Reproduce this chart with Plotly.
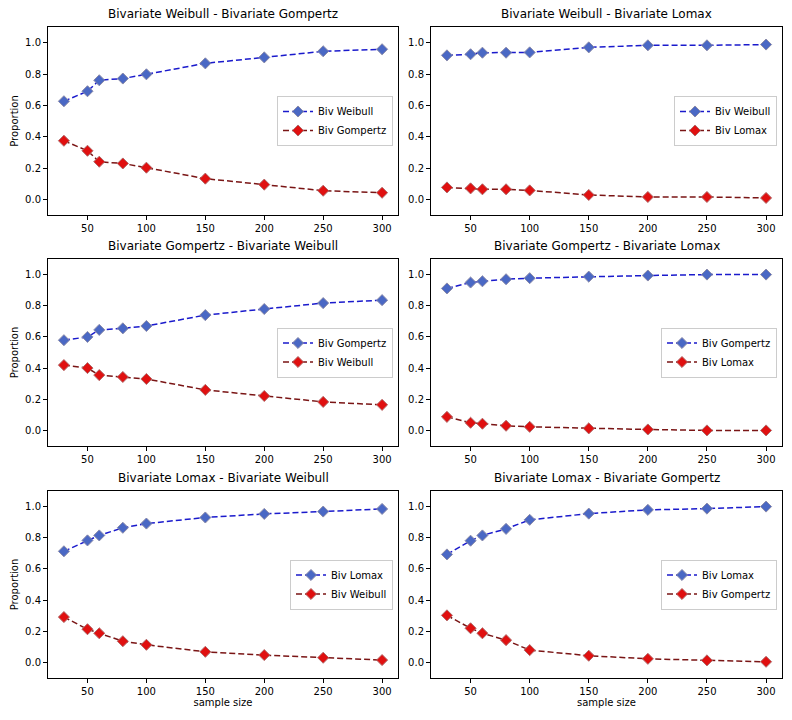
import plotly.graph_objects as go

sample_size = [30, 50, 60, 80, 100, 150, 200, 250, 300]

titles = [
    "Bivariate Weibull - Bivariate Gompertz",
    "Bivariate Weibull - Bivariate Lomax",
    "Bivariate Gompertz - Bivariate Weibull",
    "Bivariate Gompertz - Bivariate Lomax",
    "Bivariate Lomax - Bivariate Weibull",
    "Bivariate Lomax - Bivariate Gompertz",
]
names_first = ["Biv Weibull", "Biv Weibull", "Biv Gompertz", "Biv Gompertz", "Biv Lomax", "Biv Lomax"]
names_second = ["Biv Gompertz", "Biv Lomax", "Biv Weibull", "Biv Lomax", "Biv Weibull", "Biv Gompertz"]

weibull_gompertz_1 = [0.626, 0.690, 0.760, 0.771, 0.798, 0.868, 0.906, 0.945, 0.958]
weibull_gompertz_2 = [0.374, 0.310, 0.240, 0.229, 0.202, 0.132, 0.094, 0.055, 0.042]
weibull_lomax_1 = [0.919, 0.926, 0.936, 0.936, 0.938, 0.970, 0.983, 0.983, 0.988]
weibull_lomax_2 = [0.076, 0.070, 0.064, 0.064, 0.057, 0.028, 0.015, 0.015, 0.009]
gompertz_weibull_1 = [0.579, 0.600, 0.645, 0.655, 0.670, 0.740, 0.779, 0.817, 0.836]
gompertz_weibull_2 = [0.419, 0.400, 0.355, 0.343, 0.330, 0.260, 0.221, 0.183, 0.164]
gompertz_lomax_1 = [0.911, 0.949, 0.957, 0.970, 0.977, 0.987, 0.994, 1.000, 1.000]
gompertz_lomax_2 = [0.087, 0.049, 0.043, 0.030, 0.023, 0.013, 0.006, 0.000, 0.000]
lomax_weibull_1 = [0.713, 0.783, 0.815, 0.864, 0.891, 0.930, 0.953, 0.968, 0.985]
lomax_weibull_2 = [0.291, 0.213, 0.187, 0.136, 0.113, 0.068, 0.047, 0.030, 0.015]
lomax_gompertz_1 = [0.693, 0.781, 0.815, 0.857, 0.915, 0.955, 0.979, 0.987, 1.000]
lomax_gompertz_2 = [0.302, 0.219, 0.187, 0.143, 0.079, 0.043, 0.023, 0.013, 0.004]

first_series = [weibull_gompertz_1, weibull_lomax_1, gompertz_weibull_1,
                gompertz_lomax_1, lomax_weibull_1, lomax_gompertz_1]
second_series = [weibull_gompertz_2, weibull_lomax_2, gompertz_weibull_2,
                 gompertz_lomax_2, lomax_weibull_2, lomax_gompertz_2]

y_ticks = [0.0, 0.2, 0.4, 0.6, 0.8, 1.0]
x_ticks = [50, 100, 150, 200, 250, 300]

W, H = 792, 720
col_px = [(48, 398), (431, 782)]
row_px = [(27, 215), (259, 446), (491, 678)]
FONT = "DejaVu Sans"

fig = go.Figure()
annotations = []
layout = {}
for i in range(6):
    r, c = divmod(i, 2)
    k = i + 1
    xa = "xaxis" if k == 1 else f"xaxis{k}"
    ya = "yaxis" if k == 1 else f"yaxis{k}"
    xref = "x" if k == 1 else f"x{k}"
    yref = "y" if k == 1 else f"y{k}"
    leg = "legend" if k == 1 else f"legend{k}"
    x0, x1 = col_px[c]
    y0, y1 = row_px[r]
    layout[xa] = dict(
        domain=[x0 / W, x1 / W], anchor=yref, range=[16.5, 313.5],
        tickvals=x_ticks, ticks="outside", ticklen=4, tickcolor="black",
        showline=True, linecolor="black", linewidth=1, mirror=True,
        showgrid=False, zeroline=False,
        tickfont=dict(family=FONT, size=10, color="black"),
        title=dict(text="sample size" if r == 2 else "",
                   font=dict(family=FONT, size=10, color="black"), standoff=2),
    )
    layout[ya] = dict(
        domain=[1 - y1 / H, 1 - y0 / H], anchor=xref, range=[-0.1, 1.1],
        tickvals=y_ticks, tickformat=".1f", ticks="outside", ticklen=4, tickcolor="black",
        showline=True, linecolor="black", linewidth=1, mirror=True,
        showgrid=False, zeroline=False,
        tickfont=dict(family=FONT, size=10, color="black"),
        title=dict(text="Proportion" if c == 0 else "",
                   font=dict(family=FONT, size=10, color="black"), standoff=4),
    )
    layout[leg] = dict(
        x=(x1 - 5) / W, xanchor="right", y=1 - ((y0 + y1) / 2) / H, yanchor="middle",
        xref="paper", yref="paper",
        bgcolor="rgba(255,255,255,0.8)", bordercolor="#cccccc", borderwidth=1,
        font=dict(family=FONT, size=10, color="black"), tracegroupgap=0,
        itemwidth=30,
    )
    annotations.append(dict(
        text=titles[i], x=(x0 + x1) / 2 / W, y=1 - (y0 - 4) / H, xref="paper", yref="paper",
        xanchor="center", yanchor="bottom", showarrow=False,
        font=dict(family=FONT, size=12, color="black"),
    ))
    fig.add_trace(go.Scatter(
        x=sample_size, y=first_series[i], name=names_first[i], mode="lines+markers",
        line=dict(color="#1a1acc", width=1.5, dash="6px,3px"),
        marker=dict(symbol="diamond", size=8.5, color="#4a68c4",
                    line=dict(color="#8a8aa8", width=1)),
        xaxis=xref, yaxis=yref, legend=leg,
    ))
    fig.add_trace(go.Scatter(
        x=sample_size, y=second_series[i], name=names_second[i], mode="lines+markers",
        line=dict(color="#7a1515", width=1.5, dash="6px,3px"),
        marker=dict(symbol="diamond", size=8.5, color="#e01010",
                    line=dict(color="#b06a6a", width=1)),
        xaxis=xref, yaxis=yref, legend=leg,
    ))

fig.update_layout(
    width=W, height=H, margin=dict(l=0, r=0, t=0, b=0),
    paper_bgcolor="white", plot_bgcolor="white",
    font=dict(family=FONT, size=10, color="black"),
    annotations=annotations, showlegend=True,
    **layout,
)
fig.write_html("out.html", config={"displayModeBar": False},
               post_script="document.body.style.margin='0px';")
